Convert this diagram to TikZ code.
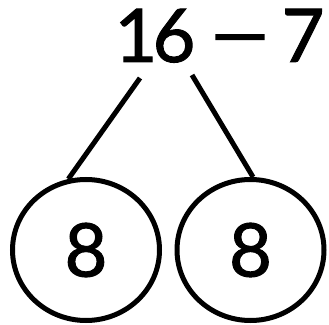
\documentclass[tikz,border=0pt]{standalone}
\usepackage{fontspec}
\setmainfont{Lato}[FakeBold=1.3]
\usetikzlibrary{shapes.geometric}
\begin{document}
\begin{tikzpicture}[x=1pt,y=1pt,
  digit/.style={inner sep=0pt, font=\fontsize{74}{74}\selectfont},
  circ/.style={draw, line width=5pt, ellipse, minimum width=147pt, minimum height=141pt, inner sep=0pt},
  link/.style={line width=5pt}]
\useasboundingbox (0,0) rectangle (329,324);
\node[digit, anchor=base] (one) at (136,262) {1};
\node[digit, anchor=base] (six) at (174,262) {6};
\node[digit, anchor=base, xscale=1.5] (minus) at (240,262) {−};
\node[digit, anchor=base] (seven) at (303,262) {7};
\node[circ] (e1) at (86,74) {};
\node[circ] (e2) at (250.5,74) {};
\node[digit] (d1) at (e1.center) {8};
\node[digit] (d2) at (e2.center) {8};
\coordinate (t1) at (140,246);
\coordinate (t2) at (192,249);
\draw[link] (t1) -- (e1.104);
\draw[link] (t2) -- (e2.88);
\end{tikzpicture}
\end{document}
